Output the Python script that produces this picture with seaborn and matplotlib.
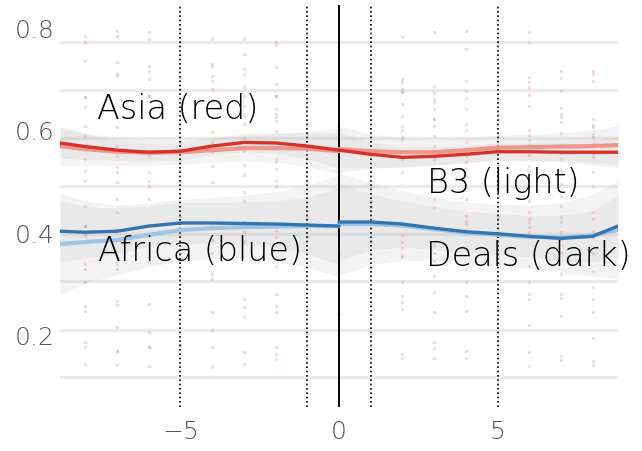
import matplotlib
matplotlib.use("Agg")
import matplotlib.pyplot as plt
from matplotlib import font_manager
import seaborn as sns
import pandas as pd

# ---------------- data ----------------
cols = [-8, -7, -6, -5, -4, -3, -2, -1, 0, 1, 2, 3, 4, 5, 6, 7, 8]

asia_vals = [
    [0.782, 0.771, 0.734, 0.664, 0.607, 0.588, 0.562, 0.543, 0.519, 0.500, 0.412, 0.397, 0.381, 0.339, 0.329, 0.177, 0.144],
    [0.792, 0.782, 0.732, 0.705, 0.568, 0.549, 0.527, 0.517, 0.498, 0.465, 0.440, 0.406, 0.339, 0.266, 0.168, 0.141],
    [0.790, 0.777, 0.724, 0.699, 0.666, 0.558, 0.549, 0.517, 0.500, 0.490, 0.465, 0.342, 0.177],
    [0.795, 0.770, 0.745, 0.700, 0.660, 0.612, 0.575, 0.540, 0.520, 0.500, 0.470, 0.430, 0.395, 0.350, 0.180],
    [0.777, 0.724, 0.695, 0.680, 0.660, 0.595, 0.575, 0.556, 0.529, 0.498, 0.412, 0.385, 0.360, 0.317, 0.137],
    [0.777, 0.747, 0.718, 0.683, 0.666, 0.646, 0.626, 0.611, 0.583, 0.558, 0.531, 0.511, 0.478, 0.460, 0.400, 0.381, 0.270, 0.144],
    [0.771, 0.765, 0.722, 0.666, 0.640, 0.630, 0.617, 0.597, 0.543, 0.537, 0.523, 0.490, 0.410, 0.402, 0.390, 0.280, 0.162, 0.152],
    [0.782, 0.745, 0.712, 0.686, 0.660, 0.640, 0.607, 0.594, 0.565, 0.543, 0.517, 0.497, 0.430, 0.390],
    [0.600, 0.520],
    [0.780, 0.750, 0.700, 0.660, 0.620, 0.580, 0.550, 0.520, 0.490, 0.460, 0.420, 0.380],
    [0.780, 0.699, 0.693, 0.680, 0.673, 0.650, 0.627, 0.607, 0.600, 0.580, 0.543, 0.517, 0.395, 0.380, 0.370, 0.356, 0.155],
    [0.790, 0.685, 0.672, 0.659, 0.640, 0.620, 0.607, 0.588, 0.568, 0.542, 0.520, 0.500, 0.465, 0.450, 0.375, 0.344, 0.175, 0.155],
    [0.792, 0.757, 0.695, 0.675, 0.662, 0.640, 0.600, 0.575, 0.549, 0.536, 0.523, 0.510, 0.484, 0.465, 0.432, 0.416, 0.422, 0.405, 0.155],
    [0.770, 0.720, 0.690, 0.660, 0.620, 0.590, 0.560, 0.530, 0.500, 0.470, 0.430, 0.400],
    [0.790, 0.771, 0.703, 0.693, 0.683, 0.667, 0.600, 0.590, 0.570, 0.550, 0.530, 0.517, 0.500, 0.490, 0.460, 0.440, 0.425, 0.420, 0.410, 0.400, 0.390, 0.140],
    [0.714, 0.700, 0.676, 0.642, 0.630, 0.614, 0.593, 0.570, 0.555, 0.542, 0.520, 0.494, 0.470, 0.452, 0.430, 0.400, 0.385, 0.360, 0.319, 0.150],
    [0.714, 0.708, 0.695, 0.620, 0.610, 0.592, 0.572, 0.553, 0.546, 0.517, 0.490, 0.440, 0.425, 0.402, 0.395, 0.360, 0.325, 0.270, 0.142],
]

africa_vals = [
    [0.664, 0.644, 0.451, 0.412, 0.393, 0.303, 0.256, 0.246, 0.186],
    [0.708, 0.605, 0.329, 0.258, 0.215, 0.168],
    [0.714, 0.666, 0.636, 0.260, 0.205, 0.177, 0.139],
    [0.680, 0.360, 0.300, 0.250, 0.180],
    [0.728, 0.705, 0.322, 0.309, 0.245, 0.210, 0.177],
    [0.708, 0.420, 0.254, 0.234, 0.166],
    [0.689, 0.666, 0.625, 0.500, 0.334, 0.256, 0.245, 0.177],
    [0.615, 0.410, 0.250, 0.200],
    [0.358, 0.240],
    [0.450, 0.330, 0.260, 0.200],
    [0.673, 0.586, 0.352, 0.303, 0.276, 0.264, 0.250, 0.163],
    [0.654, 0.620, 0.360, 0.315, 0.284, 0.244, 0.186],
    [0.611, 0.329, 0.303, 0.276, 0.246, 0.168],
    [0.630, 0.340, 0.290, 0.250, 0.190],
    [0.646, 0.580, 0.334, 0.303, 0.280, 0.270, 0.219, 0.166],
    [0.625, 0.420, 0.280, 0.272, 0.237, 0.159],
    [0.605, 0.585, 0.390, 0.293, 0.244, 0.194, 0.149],
]

# smoothed fits, left and right of the cutoff
x_left = [-8.8, -8, -7, -6, -5, -4, -3, -2, -1, 0]
x_right = [0, 1, 2, 3, 4, 5, 6, 7, 8, 8.8]

asia_dark_left = [0.574, 0.567, 0.560, 0.556, 0.558, 0.568, 0.575, 0.574, 0.568, 0.560]
asia_dark_right = [0.560, 0.552, 0.546, 0.548, 0.552, 0.557, 0.557, 0.556, 0.556, 0.556]
asia_light_left = [0.568, 0.562, 0.557, 0.555, 0.556, 0.560, 0.564, 0.564, 0.563, 0.558]
asia_light_right = [0.562, 0.558, 0.556, 0.556, 0.560, 0.565, 0.566, 0.567, 0.568, 0.570]

africa_dark_left = [0.402, 0.400, 0.402, 0.412, 0.418, 0.418, 0.417, 0.416, 0.414, 0.412]
africa_dark_right = [0.420, 0.420, 0.416, 0.408, 0.401, 0.397, 0.392, 0.388, 0.392, 0.412]
africa_light_left = [0.377, 0.381, 0.385, 0.395, 0.404, 0.408, 0.410, 0.411, 0.412, 0.412]
africa_light_right = [0.416, 0.416, 0.413, 0.406, 0.399, 0.395, 0.391, 0.390, 0.394, 0.405]

# confidence half-widths
asia_dark_hw_left = [0.030, 0.025, 0.020, 0.018, 0.017, 0.017, 0.018, 0.020, 0.025, 0.035]
asia_dark_hw_right = [0.035, 0.025, 0.020, 0.018, 0.017, 0.017, 0.018, 0.020, 0.025, 0.030]
asia_light_hw_left = [0.038, 0.032, 0.027, 0.025, 0.024, 0.024, 0.025, 0.028, 0.034, 0.045]
asia_light_hw_right = [0.045, 0.034, 0.028, 0.025, 0.024, 0.024, 0.025, 0.027, 0.032, 0.038]
africa_dark_hw_left = [0.060, 0.050, 0.045, 0.040, 0.040, 0.040, 0.042, 0.045, 0.055, 0.075]
africa_dark_hw_right = [0.075, 0.055, 0.045, 0.042, 0.040, 0.040, 0.040, 0.045, 0.050, 0.060]
africa_light_hw_left = [0.100, 0.080, 0.068, 0.062, 0.060, 0.060, 0.062, 0.068, 0.080, 0.100]
africa_light_hw_right = [0.100, 0.080, 0.068, 0.062, 0.060, 0.060, 0.062, 0.068, 0.080, 0.095]

grid_y = [0.117, 0.210, 0.304, 0.397, 0.490, 0.584, 0.677, 0.771]
cutoff_lines = [-5, -1, 1, 5]

x_ticks = [-5, 0, 5]
x_ticklabels = ["\u22125", "0", "5"]
y_ticks = [0.2, 0.4, 0.6, 0.8]
y_ticklabels = ["0.2", "0.4", "0.6", "0.8"]

labels = ["Asia (red)", "Africa (blue)", "B3 (light)", "Deals (dark)"]
label_x = [-7.63, -7.6, 2.78, 2.74]
label_y = [0.642, 0.365, 0.496, 0.354]

# ---------------- style ----------------
sns.set_style("white")
have_xl = any("ExtraLight" in f.fname for f in font_manager.fontManager.ttflist
              if f.name == "DejaVu Sans")
if have_xl:
    plt.rcParams["font.family"] = ["DejaVu Sans"]
    WEIGHT = 200
    LBL_SIZE, TICK_SIZE = 24, 18
else:
    plt.rcParams["font.family"] = ["Open Sans", "DejaVu Sans"]
    WEIGHT = "light"
    LBL_SIZE, TICK_SIZE = 26, 20

RED_D = "#d6322a"
RED_L = "#f0958c"
BLUE_D = "#3474b1"
BLUE_L = "#9fc5e2"

fig = plt.figure(figsize=(6.42, 4.52), dpi=100)
ax = fig.add_axes([60 / 642, 1 - 408 / 452, 558 / 642, 402 / 452])

for g in grid_y:
    ax.axhline(g, color="#ebebeb", lw=2.4, zorder=0)

# bands
band_sets = [
    (x_left, asia_dark_left, asia_dark_hw_left), (x_right, asia_dark_right, asia_dark_hw_right),
    (x_left, asia_light_left, asia_light_hw_left), (x_right, asia_light_right, asia_light_hw_right),
    (x_left, africa_dark_left, africa_dark_hw_left), (x_right, africa_dark_right, africa_dark_hw_right),
    (x_left, africa_light_left, africa_light_hw_left), (x_right, africa_light_right, africa_light_hw_right),
]
for xs, ys, hw in band_sets:
    lo = [a - b for a, b in zip(ys, hw)]
    hi = [a + b for a, b in zip(ys, hw)]
    ax.fill_between(xs, lo, hi, color="#9a9a9a", alpha=0.11, lw=0, zorder=1)

# points
asia_df = pd.DataFrame({"x": [c for c, v in zip(cols, asia_vals) for _ in v],
                        "y": [y for v in asia_vals for y in v]})
africa_df = pd.DataFrame({"x": [c for c, v in zip(cols, africa_vals) for _ in v],
                          "y": [y for v in africa_vals for y in v]})
sns.scatterplot(data=asia_df, x="x", y="y", color="#e05a55", alpha=0.22, s=6,
                linewidth=0, ax=ax, zorder=2, legend=False)
sns.scatterplot(data=africa_df, x="x", y="y", color="#4a86c0", alpha=0.22, s=6,
                linewidth=0, ax=ax, zorder=2, legend=False)

# vertical reference lines
ax.axvline(0, color="black", lw=1.4, zorder=3)
for v in cutoff_lines:
    ax.axvline(v, color="black", lw=1.2, linestyle=(0, (1, 1.6)), zorder=3)

# fitted lines
for xs, ys, c, w in [
    (x_left, asia_light_left, RED_L, 3.0), (x_right, asia_light_right, RED_L, 3.0),
    (x_left, africa_light_left, BLUE_L, 3.0), (x_right, africa_light_right, BLUE_L, 3.0),
    (x_left, asia_dark_left, RED_D, 2.4), (x_right, asia_dark_right, RED_D, 2.4),
    (x_left, africa_dark_left, BLUE_D, 2.4), (x_right, africa_dark_right, BLUE_D, 2.4),
]:
    sns.lineplot(x=xs, y=ys, color=c, lw=w, sort=False, estimator=None, ax=ax, zorder=4)

for t, tx, ty in zip(labels, label_x, label_y):
    ax.text(tx, ty, t, fontsize=LBL_SIZE, color="#000000", ha="left", va="center",
            fontweight=WEIGHT, zorder=5)

ax.set_xlim(-8.8, 8.8)
ax.set_ylim(0.0593, 0.843)
ax.set_xticks(x_ticks)
ax.set_xticklabels(x_ticklabels)
ax.set_yticks(y_ticks)
ax.set_yticklabels(y_ticklabels)
ax.tick_params(axis="both", length=0, labelsize=TICK_SIZE, labelcolor="#555555")
ax.tick_params(axis="x", pad=9)
ax.tick_params(axis="y", pad=4)
for lab in ax.get_xticklabels() + ax.get_yticklabels():
    lab.set_fontweight(WEIGHT)
ax.set_xlabel("")
ax.set_ylabel("")
for s in ax.spines.values():
    s.set_visible(False)
ax.grid(False)

fig.savefig("out.png", dpi=100)
